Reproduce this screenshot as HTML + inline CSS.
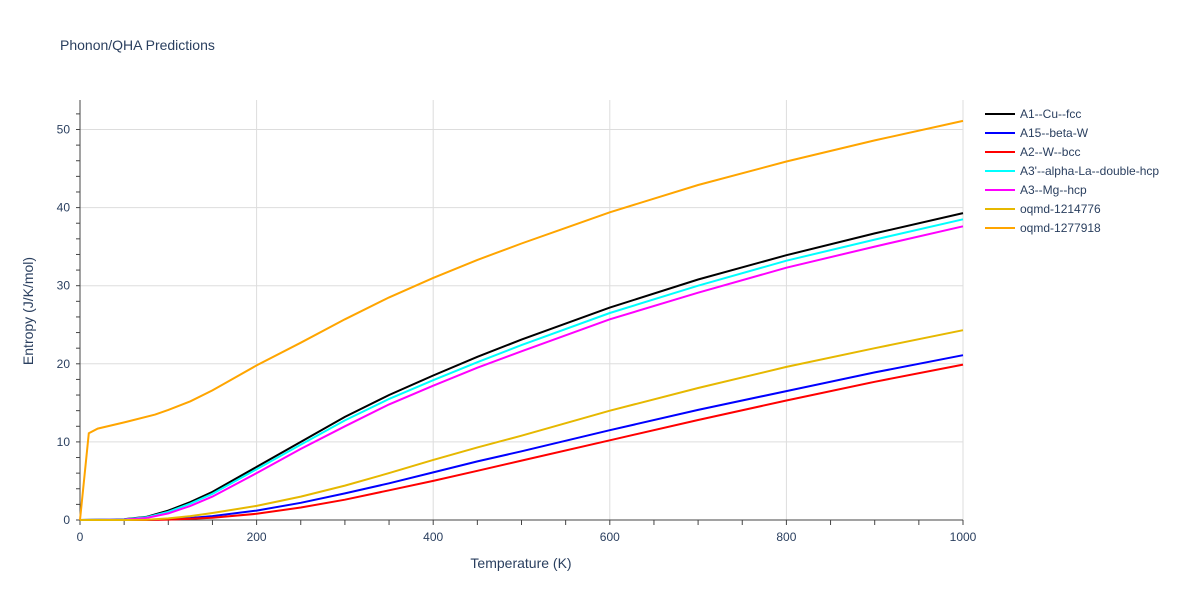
<!DOCTYPE html>
<html><head><meta charset="utf-8"><style>
body{margin:0;background:#fff;font-family:"Liberation Sans",sans-serif}
text{font-family:"Liberation Sans",sans-serif}
</style></head><body>
<svg id="chart" width="1200" height="600" xmlns="http://www.w3.org/2000/svg">
<text x="60" y="50" font-size="14" fill="#2a3f5f">Phonon/QHA Predictions</text>
<g id="grid"></g><g id="axes"></g><g id="series"></g><g id="legend"></g>
<text x="521" y="568" font-size="14" fill="#2a3f5f" text-anchor="middle">Temperature (K)</text>
<text transform="translate(33,311) rotate(-90)" font-size="14" fill="#2a3f5f" text-anchor="middle">Entropy (J/K/mol)</text>
</svg>
<script>
const xTicks=[0,200,400,600,800,1000];
const yTicks=[0,10,20,30,40,50];
const names=["A1--Cu--fcc","A15--beta-W","A2--W--bcc","A3'--alpha-La--double-hcp","A3--Mg--hcp","oqmd-1214776","oqmd-1277918"];
const colors=["#000000","#0000ff","#ff0000","#00ffff","#ff00ff","#e6b800","#ffa500"];
const T=[0,50,75,100,125,150,200,250,300,350,400,450,500,600,700,800,900,1000];
const sCu=[0,0.1,0.4,1.2,2.3,3.6,6.8,10.0,13.2,16.0,18.5,20.9,23.1,27.2,30.8,33.9,36.7,39.3];
const sBetaW=[0,0,0,0.1,0.25,0.5,1.2,2.2,3.4,4.7,6.1,7.5,8.8,11.5,14.1,16.5,18.9,21.1];
const sW=[0,0,0,0.05,0.15,0.3,0.8,1.6,2.6,3.8,5.0,6.3,7.6,10.2,12.8,15.3,17.7,19.9];
const sLa=[0,0.08,0.35,1.05,2.1,3.35,6.5,9.65,12.75,15.5,17.9,20.2,22.4,26.5,30.0,33.2,35.9,38.5];
const sMg=[0,0.05,0.25,0.85,1.8,3.0,6.0,9.1,12.0,14.8,17.2,19.5,21.6,25.7,29.1,32.3,35.0,37.6];
const s1214776=[0,0,0.02,0.2,0.5,0.9,1.8,3.0,4.4,6.0,7.7,9.3,10.8,14.0,16.9,19.6,22.0,24.3];
const T2=[0,10,20,50,85,100,125,150,200,250,300,350,400,450,500,550,600,700,800,900,1000];
const s1277918=[0,11.1,11.7,12.5,13.5,14.1,15.2,16.6,19.8,22.7,25.7,28.5,31.0,33.3,35.4,37.4,39.4,42.9,45.9,48.6,51.1];
const seriesX=[T,T,T,T,T,T,T2];
const seriesY=[sCu,sBetaW,sW,sLa,sMg,s1214776,s1277918];
const X0=80,X1=963,Y0=520,Y1=129.5;
const xs=v=>X0+(X1-X0)*v/1000, ys=v=>Y0-(Y0-Y1)*v/50;
const NS="http://www.w3.org/2000/svg";
function mk(tag,parent,attrs){const e=document.createElementNS(NS,tag);for(const k in attrs)e.setAttribute(k,attrs[k]);document.getElementById(parent).appendChild(e);return e;}
xTicks.forEach(v=>{if(v>0){const l=mk('line','grid',{x1:xs(v),x2:xs(v),y1:100,y2:Y0,stroke:'#dddddd'});

}
const t=mk('text','axes',{x:xs(v),y:541,'font-size':12,fill:'#2a3f5f','text-anchor':'middle'});t.textContent=v;

});
yTicks.forEach(v=>{if(v>0){const l=mk('line','grid',{x1:X0,x2:X1,y1:ys(v),y2:ys(v),stroke:'#dddddd'});

}
const t=mk('text','axes',{x:70,y:ys(v)+4,'font-size':12,fill:'#2a3f5f','text-anchor':'end'});t.textContent=v;

});
for(let v=0;v<=1000;v+=50){const l=mk('line','axes',{x1:xs(v),x2:xs(v),y1:Y0,y2:Y0+5,stroke:'#444'});

}
for(let v=0;v<=52;v+=2){const l=mk('line','axes',{x1:X0-4,x2:X0,y1:ys(v),y2:ys(v),stroke:'#444'});

}
const xa=mk('line','axes',{x1:X0,x2:X1,y1:Y0,y2:Y0,stroke:'#444'});


const ya=mk('line','axes',{x1:X0,x2:X0,y1:100,y2:Y0,stroke:'#444'});


seriesY.forEach((arr,i)=>{const d=arr.map((v,j)=>(j?'L':'M')+xs(seriesX[i][j]).toFixed(1)+','+ys(v).toFixed(1)).join('');
const p=mk('path','series',{d:d,fill:'none',stroke:colors[i],'stroke-width':2});


const y=114+i*19;
const ll=mk('line','legend',{x1:985,x2:1015,y1:y,y2:y,stroke:colors[i],'stroke-width':2});


const lt=mk('text','legend',{x:1020,y:y+4,'font-size':12,fill:'#2a3f5f'});lt.textContent=names[i];

});
</script>
</body></html>
